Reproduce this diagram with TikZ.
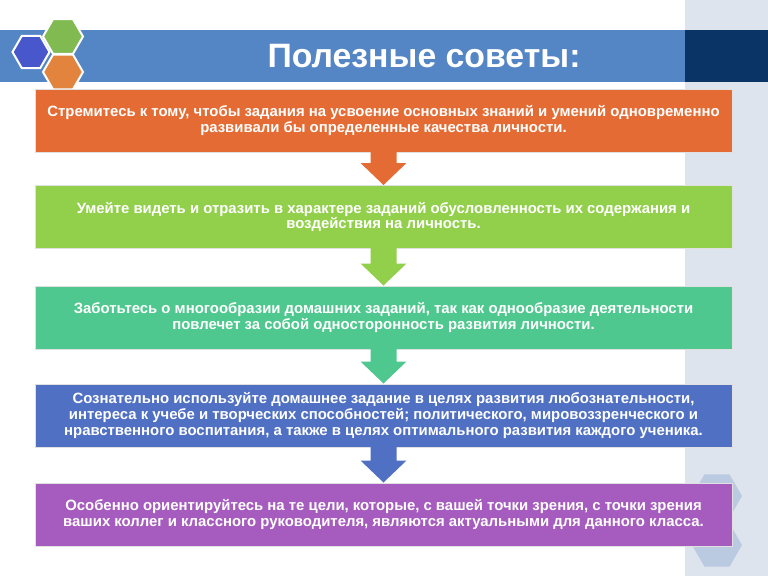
\documentclass[tikz,border=0pt]{standalone}
\usepackage{fontspec}
\setmainfont{Liberation Sans}
\usetikzlibrary{shapes.geometric,calc}
\definecolor{bandblue}{RGB}{84,133,196}
\definecolor{navy}{RGB}{10,52,102}
\definecolor{sidegrey}{RGB}{222,228,237}
\definecolor{hexblue}{RGB}{72,88,204}
\definecolor{hexgreen}{RGB}{128,186,80}
\definecolor{hexorange}{RGB}{226,132,62}
\definecolor{hexpale}{RGB}{186,202,224}
\definecolor{boxorange}{RGB}{228,108,52}
\definecolor{boxgreen}{RGB}{146,208,76}
\definecolor{boxteal}{RGB}{78,200,142}
\definecolor{boxblue}{RGB}{80,112,196}
\definecolor{boxpurple}{RGB}{166,92,190}

\begin{document}
\begin{tikzpicture}[x=1pt,y=-1pt,
  hexa/.style={regular polygon,regular polygon sides=6,inner sep=0pt,draw=white,line width=2pt},
  palehex/.style={regular polygon,regular polygon sides=6,inner sep=0pt,fill=hexpale,minimum size=50pt},
  advice/.style={draw=white!88!black,line width=1pt,minimum width=697pt,minimum height=63pt,
    inner sep=0pt,align=center,text=white,font=\bfseries\fontsize{14.9}{15.6}\selectfont},
  heading/.style={text=white,inner sep=0pt,font=\bfseries\fontsize{33.8}{33.8}\selectfont}]
\useasboundingbox (0,0) rectangle (768,576);
\fill [white] (0,0) rectangle (768,576);
\fill [sidegrey] (685,0) rectangle (768,576);
\fill [bandblue] (0,29.5) rectangle (685,81.5);
\fill [navy] (685,29.5) rectangle (768,81.5);
\node [hexa,fill=hexblue,minimum size=37pt] (hb) at (31,52) {};
\node [hexa,fill=hexgreen,minimum size=40pt] (hg) at (63,36.5) {};
\node [hexa,fill=hexorange,minimum size=40pt] (ho) at (63,72) {};
\node [heading,anchor=base] (title) at (424,67.5) {Полезные советы:};
\node [palehex] (hp1) at (717,496) {};
\node [palehex] (hp2) at (717,545) {};
\node [advice,fill=boxorange] (b1) at (383.5,120.5) {Стремитесь к тому, чтобы задания на усвоение основных знаний и умений одновременно\\развивали бы определенные качества личности.};
\node [advice,fill=boxgreen] (b2) at (383.5,217) {Умейте видеть и отразить в характере заданий обусловленность их содержания и\\воздействия на личность.};
\node [advice,fill=boxteal] (b3) at (383.5,317.5) {Заботьтесь о многообразии домашних заданий, так как однообразие деятельности\\повлечет за собой односторонность развития личности.};
\node [advice,fill=boxblue] (b4) at (383.5,415.5) {Сознательно используйте домашнее задание в целях развития любознательности,\\интереса к учебе и творческих способностей; политического, мировоззренческого и\\нравственного воспитания, а также в целях оптимального развития каждого ученика.};
\node [advice,fill=boxpurple] (b5) at (383.5,514.5) {Особенно ориентируйтесь на те цели, которые, с вашей точки зрения, с точки зрения\\ваших коллег и классного руководителя, являются актуальными для данного класса.};
\fill [boxorange] ($(b1.south)+(-13,-1)$) -- ($(b2.north)+(-13,-22)$) -- ($(b2.north)+(-23,-22)$) -- (b2.north) -- ($(b2.north)+(23,-22)$) -- ($(b2.north)+(13,-22)$) -- ($(b1.south)+(13,-1)$) -- cycle;
\fill [boxgreen] ($(b2.south)+(-13,-1)$) -- ($(b3.north)+(-13,-22)$) -- ($(b3.north)+(-23,-22)$) -- (b3.north) -- ($(b3.north)+(23,-22)$) -- ($(b3.north)+(13,-22)$) -- ($(b2.south)+(13,-1)$) -- cycle;
\fill [boxteal] ($(b3.south)+(-13,-1)$) -- ($(b4.north)+(-13,-22)$) -- ($(b4.north)+(-23,-22)$) -- (b4.north) -- ($(b4.north)+(23,-22)$) -- ($(b4.north)+(13,-22)$) -- ($(b3.south)+(13,-1)$) -- cycle;
\fill [boxblue] ($(b4.south)+(-13,-1)$) -- ($(b5.north)+(-13,-22)$) -- ($(b5.north)+(-23,-22)$) -- (b5.north) -- ($(b5.north)+(23,-22)$) -- ($(b5.north)+(13,-22)$) -- ($(b4.south)+(13,-1)$) -- cycle;
\end{tikzpicture}
\end{document}
